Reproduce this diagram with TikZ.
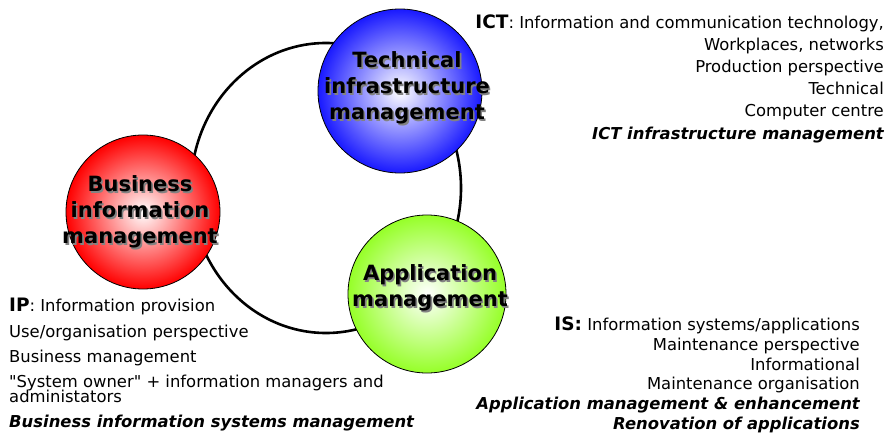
\documentclass[tikz,border=0pt]{standalone}
\usepackage{fontspec}
\setmainfont{DejaVu Sans}

\definecolor{bizred}{RGB}{255,0,0}
\definecolor{techblue}{RGB}{25,25,255}
\definecolor{appgreen}{RGB}{150,255,40}
\definecolor{shadowgray}{RGB}{130,130,130}

\newcommand{\areakey}[1]{{\fontsize{18.5}{18.5}\selectfont\bfseries #1}}
\newcommand{\bubbletext}[3]{%
  \node[bubble label, text=shadowgray] at ([shift={(1.6,1.6)}]#2) {#3};
  \node[bubble label] (#1) at (#2) {#3};}

\tikzset{
  bubble/.style = {circle, draw=black, line width=0.8pt, inner sep=0pt,
                   inner color=white, outer color=#1},
  bubble label/.style = {align=center, inner sep=0pt,
                         font=\fontsize{21}{26}\selectfont\bfseries},
  ring/.style = {line width=2.6pt},
  info/.style = {inner sep=0pt, font=\fontsize{16.4}{16.4}\selectfont},
  info left/.style = {info, anchor=base west},
  info right/.style = {info, anchor=base east}
}

\begin{document}
\begin{tikzpicture}[x=1pt, y=-1pt]
    \useasboundingbox (0,0) rectangle (887,434);

    % ring behind the three circles
    \coordinate (ringc) at (326,188);
    \draw[ring] (ringc) ellipse [x radius=135pt, y radius=145pt];

    \node[bubble=bizred,   minimum size=154pt] (bim) at (143,212) {};
    \node[bubble=techblue, minimum size=164pt] (tim) at (400,91) {};
    \node[bubble=appgreen, minimum size=158pt] (am)  at (427,294) {};

    \bubbletext{bimtext}{140,212}{Business\\information\\management}
    \bubbletext{timtext}{407,88}{Technical\\infrastructure\\management}
    \bubbletext{amtext}{430,288}{Application\\management}

    % ICT
    \node[info right] (ict1) at (884,28)  {\areakey{ICT}: Information and communication technology,};
    \node[info right] (ict2) at (884,50)  {Workplaces, networks};
    \node[info right] (ict3) at (884,72)  {Production perspective};
    \node[info right] (ict4) at (884,94)  {Technical};
    \node[info right] (ict5) at (884,116) {Computer centre};
    \node[info right] (ict6) at (884,139) {\bfseries\itshape ICT infrastructure management};

    % IS
    \node[info right] (is1) at (860,330) {\areakey{IS:} Information systems/applications};
    \node[info right] (is2) at (860,350) {Maintenance perspective};
    \node[info right] (is3) at (860,370) {Informational};
    \node[info right] (is4) at (860,389) {Maintenance organisation};
    \node[info right] (is5) at (860,409) {\bfseries\itshape Application management \& enhancement};
    \node[info right] (is6) at (860,429) {\bfseries\itshape Renovation of applications};

    % IP
    \node[info left] (ip1) at (9,311) {\areakey{IP}: Information provision};
    \node[info left] (ip2) at (9,337) {Use/organisation perspective};
    \node[info left] (ip3) at (9,362) {Business management};
    \node[info left] (ip4) at (9,387) {\textquotedbl System owner\textquotedbl{} + information managers and};
    \node[info left] (ip5) at (9,402) {administators};
    \node[info left] (ip6) at (9,427) {\bfseries\itshape Business information systems management};
\end{tikzpicture}
\end{document}
